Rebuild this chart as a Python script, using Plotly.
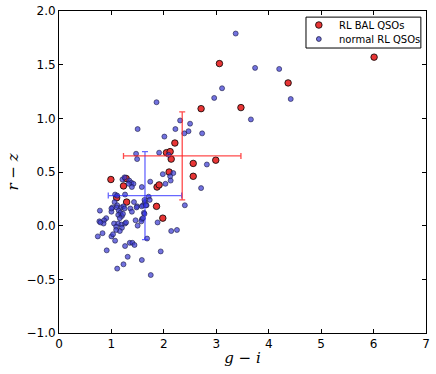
import plotly.graph_objects as go

# RL BAL QSOs
bal_gi = [3.06, 2.71, 3.47, 2.21, 2.05, 2.12, 2.14, 2.56, 2.99, 2.56, 2.10, 0.99, 1.28,
          4.37, 6.01, 1.23, 1.87, 1.91, 1.98, 1.86, 1.10, 1.29]
bal_rz = [1.51, 1.09, 1.10, 0.77, 0.68, 0.69, 0.62, 0.58, 0.61, 0.46, 0.50, 0.43, 0.44,
          1.33, 1.57, 0.37, 0.36, 0.38, 0.07, 0.18, 0.26, 0.22]

# normal RL QSOs
norm_gi = [3.37, 3.11, 2.96, 1.86, 2.31, 2.50, 1.50, 2.22, 2.47, 2.39, 2.73, 2.01, 1.47,
           1.91, 2.09, 1.49, 2.82, 1.98, 2.18, 2.12, 3.74, 4.20, 4.42, 3.66,
           1.21, 1.25, 1.34, 1.38, 1.42, 1.39, 1.33, 1.58, 1.74, 2.03, 2.13, 2.71, 2.40,
           1.07, 1.11, 1.26, 1.06, 1.11, 1.10, 1.02, 1.19, 1.23, 1.25, 1.43, 1.49, 1.60,
           1.64, 1.71, 1.73, 1.63, 1.67, 1.36, 1.39, 1.58,
           0.78, 1.00, 1.00, 1.14, 1.17, 1.13, 1.20, 1.16, 1.22, 1.48, 1.62, 1.63, 1.66,
           0.90, 0.86, 0.77, 0.85, 1.05, 1.13, 1.19, 1.26, 1.28, 1.09, 1.20, 1.46, 1.58,
           1.57, 1.60, 1.50, 1.88, 1.16, 1.09,
           0.74, 0.83, 1.00, 1.03, 1.07, 1.35, 1.40, 1.44, 1.26, 0.91, 1.31, 1.23, 1.11,
           1.58, 1.75, 1.94, 1.68, 2.14, 2.25, 0.79]
norm_rz = [1.79, 1.28, 1.19, 1.15, 0.98, 0.95, 0.90, 0.90, 0.88, 0.86, 0.86, 0.83, 0.67,
           0.68, 0.66, 0.62, 0.57, 0.48, 0.49, 0.46, 1.47, 1.46, 1.18, 0.99,
           0.43, 0.45, 0.42, 0.40, 0.39, 0.36, 0.39, 0.36, 0.41, 0.39, 0.42, 0.35, 0.19,
           0.29, 0.28, 0.29, 0.22, 0.19, 0.17, 0.17, 0.17, 0.18, 0.16, 0.22, 0.18, 0.19,
           0.22, 0.27, 0.24, 0.24, 0.19, 0.16, 0.13, 0.18,
           0.14, 0.13, 0.16, 0.14, 0.12, 0.10, 0.09, 0.07, 0.11, 0.17, 0.12, 0.11, 0.19,
           0.07, 0.05, 0.04, 0.02, 0.02, 0.02, 0.01, 0.02, 0.03, -0.01, -0.02, 0.05, 0.06,
           0.04, 0.07, 0.00, 0.03, -0.05, -0.04,
           -0.10, -0.07, -0.10, -0.08, -0.14, -0.16, -0.16, -0.18, -0.19, -0.23, -0.29, -0.36, -0.40,
           -0.32, -0.46, -0.24, -0.12, -0.05, -0.04, 0.03]

# mean and spread of each sample
bal_mean = [2.35, 0.65]
bal_err = [1.12, 0.41]
norm_mean = [1.64, 0.28]
norm_err = [0.70, 0.41]

legend_labels = ['RL BAL QSOs', 'normal RL QSOs']

red_fill = '#e83535'
blue_fill = 'rgba(60,60,210,0.72)'

fig = go.Figure()

fig.add_trace(go.Scatter(
    x=bal_gi, y=bal_rz, mode='markers', name=legend_labels[0],
    marker=dict(size=6.5, color=red_fill, line=dict(color='black', width=0.8))
))
fig.add_trace(go.Scatter(
    x=norm_gi, y=norm_rz, mode='markers', name=legend_labels[1],
    marker=dict(size=5, color=blue_fill, line=dict(color='#1a1a40', width=0.6))
))

fig.add_trace(go.Scatter(
    x=[norm_mean[0]], y=[norm_mean[1]], mode='markers',
    marker=dict(size=1, color='rgba(0,0,0,0)'),
    error_x=dict(type='constant', value=norm_err[0], color='rgba(40,40,255,0.7)', thickness=1.3, width=3),
    error_y=dict(type='constant', value=norm_err[1], color='rgba(40,40,255,0.7)', thickness=1.3, width=3)
))
fig.add_trace(go.Scatter(
    x=[bal_mean[0]], y=[bal_mean[1]], mode='markers',
    marker=dict(size=1, color='rgba(0,0,0,0)'),
    error_x=dict(type='constant', value=bal_err[0], color='rgba(255,30,30,0.8)', thickness=1.3, width=3),
    error_y=dict(type='constant', value=bal_err[1], color='rgba(255,30,30,0.8)', thickness=1.3, width=3)
))

# compact legend box (plotly's own legend rows are too tall and hide the point at g-i=6)
key_x = 0.708
text_x = 0.757
row_y = [0.9565, 0.913]
key_size = [3.3, 2.4]
key_fill = [red_fill, blue_fill]
key_edge = ['black', '#1a1a40']

shapes = [dict(type='rect', xref='paper', yref='paper', x0=0.673, x1=0.986, y0=0.885, y1=0.981,
               line=dict(color='black', width=1), fillcolor='white', layer='above')]
annotations = []
for i, label in enumerate(legend_labels):
    shapes.append(dict(type='circle', xref='paper', yref='paper',
                       xsizemode='pixel', ysizemode='pixel',
                       xanchor=key_x, yanchor=row_y[i],
                       x0=-key_size[i], x1=key_size[i], y0=-key_size[i], y1=key_size[i],
                       fillcolor=key_fill[i], line=dict(color=key_edge[i], width=0.8),
                       layer='above'))
    annotations.append(dict(text=label, xref='paper', yref='paper', x=text_x, y=row_y[i],
                            xanchor='left', yanchor='middle', showarrow=False,
                            font=dict(family='DejaVu Sans', size=10, color='black')))

axis_style = dict(
    showgrid=False, zeroline=False, showline=True, linecolor='black', linewidth=1,
    mirror='allticks', ticks='inside', ticklen=4, tickcolor='black', automargin=False,
    tickfont=dict(family='DejaVu Sans', size=12, color='black')
)

fig.update_layout(
    width=436, height=374,
    margin=dict(l=59, r=10, t=11, b=41),
    plot_bgcolor='white', paper_bgcolor='white',
    showlegend=False,
    shapes=shapes, annotations=annotations,
    xaxis=dict(range=[0, 7], dtick=1, tickformat='d',
               title=dict(text='<i>g</i> − <i>i</i>', standoff=2,
                          font=dict(family='DejaVu Serif', size=15, color='black')),
               **axis_style),
    yaxis=dict(range=[-1, 2], dtick=0.5, tickformat='.1f',
               title=dict(text='<i>r</i> − <i>z</i>', standoff=4,
                          font=dict(family='DejaVu Serif', size=15, color='black')),
               **axis_style),
)

# drop the default 8px page margin so the figure fills the window exactly
fig.write_html("out.html", config={'displayModeBar': False},
               post_script="document.body.style.margin='0';")
